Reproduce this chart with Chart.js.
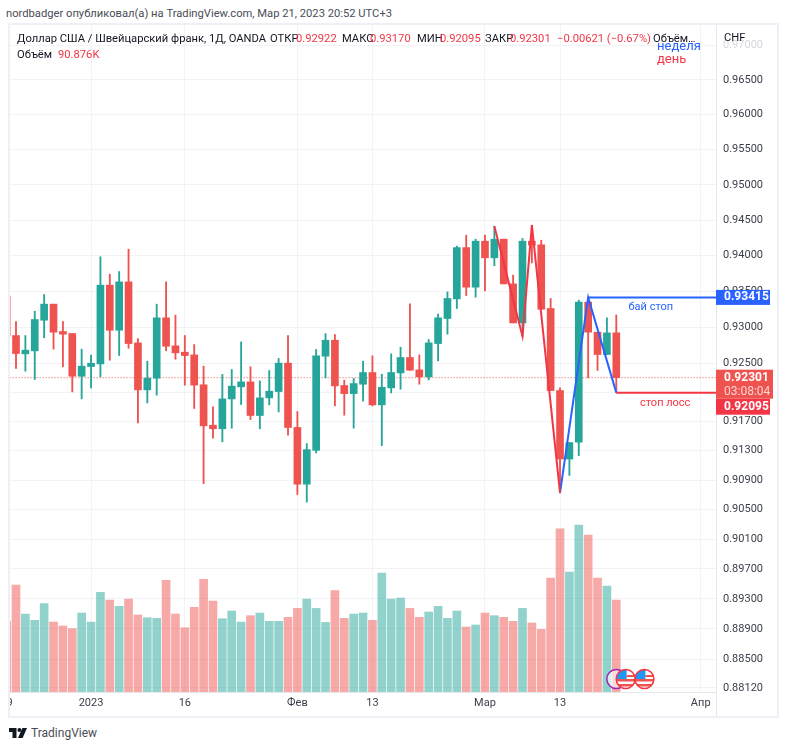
<!DOCTYPE html>
<html lang="ru">
<head>
    <meta charset="UTF-8">
    <title>USDCHF, 1D</title>
    <script src="https://cdn.jsdelivr.net/npm/chart.js@4"></script>
    <style>
        html, body {
            margin: 0;
            padding: 0;
            background: #fff;
        }
        body {
            position: relative;
            width: 787px;
            height: 750px;
            overflow: hidden;
            font-family: Roboto, sans-serif;
            font-size: 11.2px;
            color: #131722;
        }
        .frame {
            position: absolute;
            left: 8px;
            top: 23px;
            width: 771px;
            height: 695px;
            box-sizing: border-box;
            border: 2px solid #eeeff7;
        }
        .axis-gap {
            position: absolute;
            left: 716px;
            top: 692px;
            width: 1px;
            height: 24px;
            background: #e6e7ee;
        }
        .chart-wrap {
            position: absolute;
            left: 10px;
            top: 25px;
            width: 767px;
            height: 691px;
        }
        .txt {
            position: absolute;
            white-space: nowrap;
            line-height: 14px;
        }
        .down { color: #f23645; }
    </style>
</head>
<body>
    <div class="txt" style="left:6px;top:7px;color:#4a4d57">nordbadger опубликовал(а) на TradingView.com, Мар 21, 2023 20:52 UTC+3</div>

    <div class="frame"></div>
    <div class="axis-gap"></div>
    <div class="chart-wrap"><canvas id="chart" width="767" height="691"></canvas></div>

    <div class="txt" style="left:17px;top:32px">Доллар США / Швейцарский франк, 1Д, OANDA</div>
    <div class="txt" style="left:270px;top:32px">ОТКР</div>
    <div class="txt down" style="left:296px;top:32px">0.92922</div>
    <div class="txt" style="left:342px;top:32px">МАКС</div>
    <div class="txt down" style="left:370px;top:32px">0.93170</div>
    <div class="txt" style="left:417px;top:32px">МИН</div>
    <div class="txt down" style="left:440px;top:32px">0.92095</div>
    <div class="txt" style="left:485px;top:32px">ЗАКР</div>
    <div class="txt down" style="left:510px;top:32px">0.92301</div>
    <div class="txt down" style="left:557px;top:32px">−0.00621 (−0.67%)</div>
    <div class="txt" style="left:653px;top:32px">Объём…</div>
    <div class="txt" style="left:17px;top:48px">Объём</div>
    <div class="txt down" style="left:58px;top:48px">90.876K</div>
    <div class="txt" style="left:724px;top:31px">CHF</div>
    <div class="txt" style="left:657px;top:39px;font-size:13px;color:#2962ff">неделя</div>
    <div class="txt down" style="left:657px;top:52px;font-size:13px">день</div>

    <svg style="position:absolute;left:9px;top:728px" width="18" height="10" viewBox="0 0 18 10">
        <path d="M0 0H7.5V10H3.5V4H0Z" fill="#131722"/>
        <circle cx="10.4" cy="2" r="2" fill="#131722"/>
        <path d="M13.4 0H18L13.6 10H9Z" fill="#131722"/>
    </svg>
    <div class="txt" style="left:31px;top:726px;font-size:12px;color:#4a4d57">TradingView</div>

    <script>
        const categories = [
            '2022-12-19', '2022-12-20', '2022-12-21', '2022-12-22', '2022-12-23', '2022-12-27', '2022-12-28', '2022-12-29', '2022-12-30',
            '2023-01-02', '2023-01-03', '2023-01-04', '2023-01-05', '2023-01-06', '2023-01-09', '2023-01-10', '2023-01-11', '2023-01-12', '2023-01-13',
            '2023-01-16', '2023-01-17', '2023-01-18', '2023-01-19', '2023-01-20', '2023-01-23', '2023-01-24', '2023-01-25', '2023-01-26', '2023-01-27', '2023-01-30', '2023-01-31',
            '2023-02-01', '2023-02-02', '2023-02-03', '2023-02-06', '2023-02-07', '2023-02-08', '2023-02-09', '2023-02-10',
            '2023-02-13', '2023-02-14', '2023-02-15', '2023-02-16', '2023-02-17', '2023-02-20', '2023-02-21', '2023-02-22', '2023-02-23', '2023-02-24', '2023-02-27', '2023-02-28',
            '2023-03-01', '2023-03-02', '2023-03-03', '2023-03-06', '2023-03-07', '2023-03-08', '2023-03-09', '2023-03-10',
            '2023-03-13', '2023-03-14', '2023-03-15', '2023-03-16', '2023-03-17', '2023-03-20', '2023-03-21',
            '2023-03-22', '2023-03-23', '2023-03-24', '2023-03-27', '2023-03-28', '2023-03-29', '2023-03-30', '2023-03-31',
            '2023-04-03', '2023-04-04', '2023-04-05'
        ];

        const opens = [
            0.93432, 0.92884, 0.92630, 0.92672, 0.93097, 0.93321, 0.92940, 0.92912, 0.92321, 0.92455,
            0.92491, 0.93586, 0.92958, 0.93632, 0.92782, 0.92133, 0.92294, 0.93130, 0.92741, 0.92653,
            0.92616, 0.92203, 0.91648, 0.91599, 0.92009, 0.92175, 0.92243, 0.91781, 0.92023, 0.92110,
            0.92502, 0.91617, 0.90844, 0.91304, 0.92598, 0.92819, 0.92193, 0.92082, 0.92211, 0.92372,
            0.91927, 0.92161, 0.92367, 0.92580, 0.92409, 0.92313, 0.92773, 0.93121, 0.93395, 0.94113,
            0.93558, 0.94203, 0.93969, 0.94231, 0.93604, 0.93060, 0.94203, 0.94152, 0.93260, 0.92124,
            0.91186, 0.91415, 0.93349, 0.92931, 0.92621, 0.92922
        ];
        const highs = [
            0.93432, 0.93079, 0.92884, 0.93222, 0.93455, 0.93321, 0.93079, 0.92912, 0.92695, 0.92612,
            0.93984, 0.93740, 0.93777, 0.94090, 0.92843, 0.92529, 0.93321, 0.93632, 0.93167, 0.92884,
            0.92759, 0.92460, 0.91900, 0.92345, 0.92414, 0.92796, 0.92451, 0.92257, 0.92400, 0.92566,
            0.92884, 0.91835, 0.91396, 0.92691, 0.92912, 0.92898, 0.92267, 0.92290, 0.92529, 0.92603,
            0.92349, 0.92631, 0.92722, 0.93324, 0.92617, 0.92829, 0.93182, 0.93493, 0.94133, 0.94288,
            0.94231, 0.94288, 0.94415, 0.94231, 0.93726, 0.94241, 0.94429, 0.94217, 0.93400, 0.92161,
            0.91410, 0.93376, 0.93413, 0.92931, 0.93130, 0.93170
        ];
        const lows = [
            0.92875, 0.92428, 0.92391, 0.92276, 0.92852, 0.92695, 0.92451, 0.92105, 0.92009, 0.92160,
            0.92312, 0.92542, 0.92607, 0.92708, 0.91680, 0.91954, 0.92060, 0.92672, 0.92556, 0.92197,
            0.91877, 0.90852, 0.91471, 0.91421, 0.91607, 0.91931, 0.91725, 0.91599, 0.91927, 0.91830,
            0.91511, 0.90704, 0.90601, 0.91268, 0.92299, 0.91913, 0.91785, 0.91607, 0.91977, 0.91913,
            0.91369, 0.92091, 0.92142, 0.92404, 0.92211, 0.92271, 0.92533, 0.92903, 0.93260, 0.93441,
            0.93418, 0.93507, 0.93858, 0.93604, 0.93060, 0.92875, 0.93898, 0.93250, 0.92124, 0.90726,
            0.90963, 0.91232, 0.92299, 0.92400, 0.92621, 0.92095
        ];
        const closes = [
            0.92875, 0.92635, 0.92681, 0.93107, 0.93321, 0.92931, 0.92903, 0.92321, 0.92460, 0.92501,
            0.93586, 0.92958, 0.93632, 0.92773, 0.92133, 0.92294, 0.93130, 0.92736, 0.92644, 0.92607,
            0.92199, 0.91639, 0.91599, 0.92009, 0.92184, 0.92243, 0.91781, 0.92023, 0.92115, 0.92502,
            0.91617, 0.90844, 0.91314, 0.92603, 0.92819, 0.92188, 0.92082, 0.92220, 0.92372, 0.91927,
            0.92169, 0.92372, 0.92580, 0.92404, 0.92313, 0.92782, 0.93130, 0.93400, 0.94113, 0.93558,
            0.94203, 0.93969, 0.94231, 0.93604, 0.93060, 0.94203, 0.94147, 0.93250, 0.92124, 0.91186,
            0.91410, 0.93349, 0.92931, 0.92621, 0.92921, 0.92301
        ];
        const volumes = [
            70.1, 105.7, 77.0, 70.8, 87.3, 69.1, 65.2, 62.6, 78.0, 69.1,
            98.4, 90.9, 84.6, 91.9, 76.1, 73.4, 72.8, 110.3, 77.0, 63.5,
            83.6, 111.3, 89.9, 72.4, 80.0, 69.1, 75.4, 78.0, 69.8, 69.8,
            73.8, 82.6, 91.9, 82.6, 68.8, 100.1, 72.8, 77.0, 78.0, 70.8,
            117.5, 91.9, 92.9, 82.6, 73.8, 79.0, 84.6, 72.8, 80.0, 64.2,
            66.2, 78.0, 75.4, 73.8, 69.8, 82.6, 68.2, 61.9, 112.6, 161.3,
            118.5, 165.0, 155.1, 112.6, 104.7, 90.876
        ];

        const priceTicks = [
            0.97, 0.965, 0.96, 0.955, 0.95, 0.945, 0.94, 0.935, 0.93, 0.925, 0.921,
            0.917, 0.913, 0.909, 0.905, 0.901, 0.897, 0.893, 0.889, 0.885, 0.8812
        ];
        const timeTickDates = ['2022-12-19', '2023-01-02', '2023-01-16', '2023-02-01', '2023-02-13', '2023-03-01', '2023-03-13', '2023-04-03'];
        const timeTickLabels = ['19', '2023', '16', 'Фев', '13', 'Мар', '13', 'Апр'];

        // zigzag drawn by hand over the candles
        const dayPathDates = ['2023-03-02', '2023-03-07', '2023-03-08', '2023-03-13'];
        const dayPathPrices = [0.94415, 0.92875, 0.94429, 0.90726];
        const weekPathDates = ['2023-03-13', '2023-03-16', '2023-03-21'];
        const weekPathPrices = [0.90726, 0.93415, 0.92095];

        const lastPrice = 0.92301;
        const countdown = '03:08:04';
        const buyStop = 0.93415;
        const stopLoss = 0.92095;
        const eventDates = ['2023-03-22', '2023-03-24'];
        const lastDate = '2023-04-05';

        const UP = '#26a69a';
        const DOWN = '#ef5350';
        const RED_LINE = '#f23645';
        const BLUE_LINE = '#2962ff';
        const FONT = 'Roboto, sans-serif';

        const dateIndex = d => categories.indexOf(d);
        const isDown = i => closes[i] < opens[i];

        const bodies = opens.map((o, i) => ({ x: i, y: [o, closes[i]] }));
        const wicks = lows.map((l, i) => ({ x: i, y: [l, highs[i]] }));
        const volumeBars = volumes.map((v, i) => ({ x: i, y: v }));
        const candleColors = opens.map((_, i) => isDown(i) ? DOWN : UP);
        const volumeColors = opens.map((_, i) => isDown(i) ? 'rgba(239,83,80,0.5)' : 'rgba(38,166,154,0.5)');

        const path = (dates, prices) => dates.map((d, i) => ({ x: dateIndex(d), y: prices[i] }));

        function drawBadge(ctx, x, top, w, h, color, text) {
            ctx.fillStyle = color;
            ctx.fillRect(x, top, w, h);
            ctx.fillStyle = '#fff';
            ctx.font = 'bold 12px ' + FONT;
            ctx.textAlign = 'left';
            ctx.textBaseline = 'middle';
            ctx.fillText(text, x + 8, top + h / 2);
        }

        function drawFlag(ctx, x, y) {
            const r = 9.5;
            ctx.save();
            ctx.beginPath();
            ctx.arc(x, y, r, 0, Math.PI * 2);
            ctx.fillStyle = '#fff';
            ctx.fill();
            ctx.clip();
            ctx.fillStyle = '#2196f3';
            ctx.fillRect(x - r, y - r, r + 1, r);
            ctx.fillStyle = '#ef5350';
            ctx.fillRect(x + 1, y - 4, r, 2);
            ctx.fillRect(x - r, y, r * 2, 2.5);
            ctx.fillRect(x - r, y + 5, r * 2, 2.5);
            ctx.restore();
            ctx.beginPath();
            ctx.arc(x, y, r, 0, Math.PI * 2);
            ctx.strokeStyle = RED_LINE;
            ctx.lineWidth = 1.5;
            ctx.stroke();
        }

        // price badges, level captions and the calendar markers
        const overlayPlugin = {
            id: 'overlay',
            afterDraw(chart) {
                const ctx = chart.ctx;
                const xs = chart.scales.x;
                const ys = chart.scales.y;
                const right = xs.right;

                ctx.save();
                ctx.font = '11px ' + FONT;
                ctx.textAlign = 'center';
                ctx.textBaseline = 'middle';
                ctx.fillStyle = BLUE_LINE;
                ctx.fillText('бай стоп', xs.getPixelForValue(dateIndex('2023-03-27')) - 3, ys.getPixelForValue(buyStop) + 10);
                ctx.fillStyle = RED_LINE;
                ctx.fillText('стоп лосс', xs.getPixelForValue(dateIndex('2023-03-28')) + 2, ys.getPixelForValue(stopLoss) + 11);

                // calendar markers sit on the bottom of the pane
                const markerY = ys.bottom - 13;
                ctx.beginPath();
                ctx.arc(xs.getPixelForValue(dateIndex('2023-03-21')), markerY, 9.5, 0, Math.PI * 2);
                ctx.fillStyle = 'rgba(255,255,255,0.6)';
                ctx.fill();
                ctx.strokeStyle = '#9c27b0';
                ctx.lineWidth = 1.5;
                ctx.stroke();
                eventDates.forEach(d => drawFlag(ctx, xs.getPixelForValue(dateIndex(d)), markerY));

                drawBadge(ctx, right, ys.getPixelForValue(buyStop) - 7.5, 54, 15, BLUE_LINE, buyStop.toFixed(5));

                const lastY = ys.getPixelForValue(lastPrice);
                ctx.fillStyle = DOWN;
                ctx.fillRect(right, lastY - 8, 57, 29);
                ctx.fillStyle = '#fff';
                ctx.font = 'bold 12px ' + FONT;
                ctx.textAlign = 'left';
                ctx.textBaseline = 'middle';
                ctx.fillText(lastPrice.toFixed(5), right + 8, lastY);
                ctx.font = '12px ' + FONT;
                ctx.fillStyle = 'rgba(255,255,255,0.75)';
                ctx.fillText(countdown, right + 8, lastY + 14);

                // pushed below the last price badge so the two do not collide
                drawBadge(ctx, right, lastY + 21, 54, 16, RED_LINE, stopLoss.toFixed(5));
                ctx.restore();
            }
        };

        new Chart(document.getElementById('chart'), {
            type: 'bar',
            plugins: [overlayPlugin],
            data: {
                datasets: [
                    {
                        type: 'bar', label: 'Объём', yAxisID: 'volume', data: volumeBars,
                        backgroundColor: volumeColors, barThickness: 8, grouped: false, order: 6
                    },
                    {
                        type: 'line', label: 'Закрытие', data: [{ x: 0, y: lastPrice }, { x: categories.length - 1, y: lastPrice }],
                        borderColor: 'rgba(239,83,80,0.8)', borderWidth: 1.2, borderDash: [1, 2], pointRadius: 0, order: 5
                    },
                    {
                        type: 'bar', label: 'Тени', data: wicks,
                        backgroundColor: candleColors, barThickness: 1.2, grouped: false, order: 4
                    },
                    {
                        type: 'bar', label: 'Свечи', data: bodies,
                        backgroundColor: candleColors, barThickness: 7, grouped: false, order: 3
                    },
                    {
                        type: 'line', label: 'день', data: path(dayPathDates, dayPathPrices),
                        borderColor: RED_LINE, borderWidth: 2, pointRadius: 0, order: 2
                    },
                    {
                        type: 'line', label: 'неделя', data: path(weekPathDates, weekPathPrices),
                        borderColor: BLUE_LINE, borderWidth: 2, pointRadius: 0, order: 2
                    },
                    {
                        type: 'line', label: 'бай стоп', data: path(['2023-03-16', lastDate], [buyStop, buyStop]),
                        borderColor: BLUE_LINE, borderWidth: 2, pointRadius: 0, order: 1
                    },
                    {
                        type: 'line', label: 'стоп лосс', data: path(['2023-03-21', lastDate], [stopLoss, stopLoss]),
                        borderColor: RED_LINE, borderWidth: 2, pointRadius: 0, order: 1
                    }
                ]
            },
            options: {
                responsive: false,
                animation: false,
                plugins: {
                    legend: { display: false },
                    tooltip: { enabled: false }
                },
                layout: { padding: 0 },
                scales: {
                    x: {
                        type: 'linear',
                        offset: false,
                        min: 0.36,
                        max: 75.63,
                        grid: { color: '#f2f3f6', drawTicks: false, offset: false },
                        border: { color: '#e6e7ee' },
                        ticks: {
                            autoSkip: false,
                            maxRotation: 0,
                            padding: 5,
                            color: '#3a3e4a',
                            font: { family: FONT, size: 11 },
                            callback: v => timeTickLabels[timeTickDates.indexOf(categories[v])]
                        },
                        afterBuildTicks: scale => {
                            scale.ticks = timeTickDates.map(d => ({ value: dateIndex(d) }));
                        },
                        afterFit: scale => {
                            scale.height = 24;
                            scale.paddingLeft = 0;
                            scale.paddingRight = 0;
                        }
                    },
                    y: {
                        type: 'logarithmic',
                        position: 'right',
                        // keep the exact bounds instead of snapping to generated ticks
                        bounds: 'data',
                        min: 0.88066,
                        max: 0.97296,
                        grid: { color: '#f2f3f6', drawTicks: false },
                        border: { color: '#e6e7ee' },
                        ticks: {
                            padding: 7,
                            autoSkip: false,
                            font: { family: FONT, size: 11 },
                            color: ctx => ctx.tick.value === 0.97 ? '#d5d7dd' : '#3a3e4a',
                            callback: v => v.toFixed(5)
                        },
                        afterBuildTicks: scale => {
                            scale.ticks = priceTicks.map(v => ({ value: v }));
                        },
                        afterFit: scale => {
                            scale.width = 61;
                            scale.paddingTop = 0;
                            scale.paddingBottom = 0;
                        }
                    },
                    volume: {
                        type: 'linear',
                        display: false,
                        min: 0,
                        max: 659
                    }
                }
            }
        });
    </script>
</body>
</html>
